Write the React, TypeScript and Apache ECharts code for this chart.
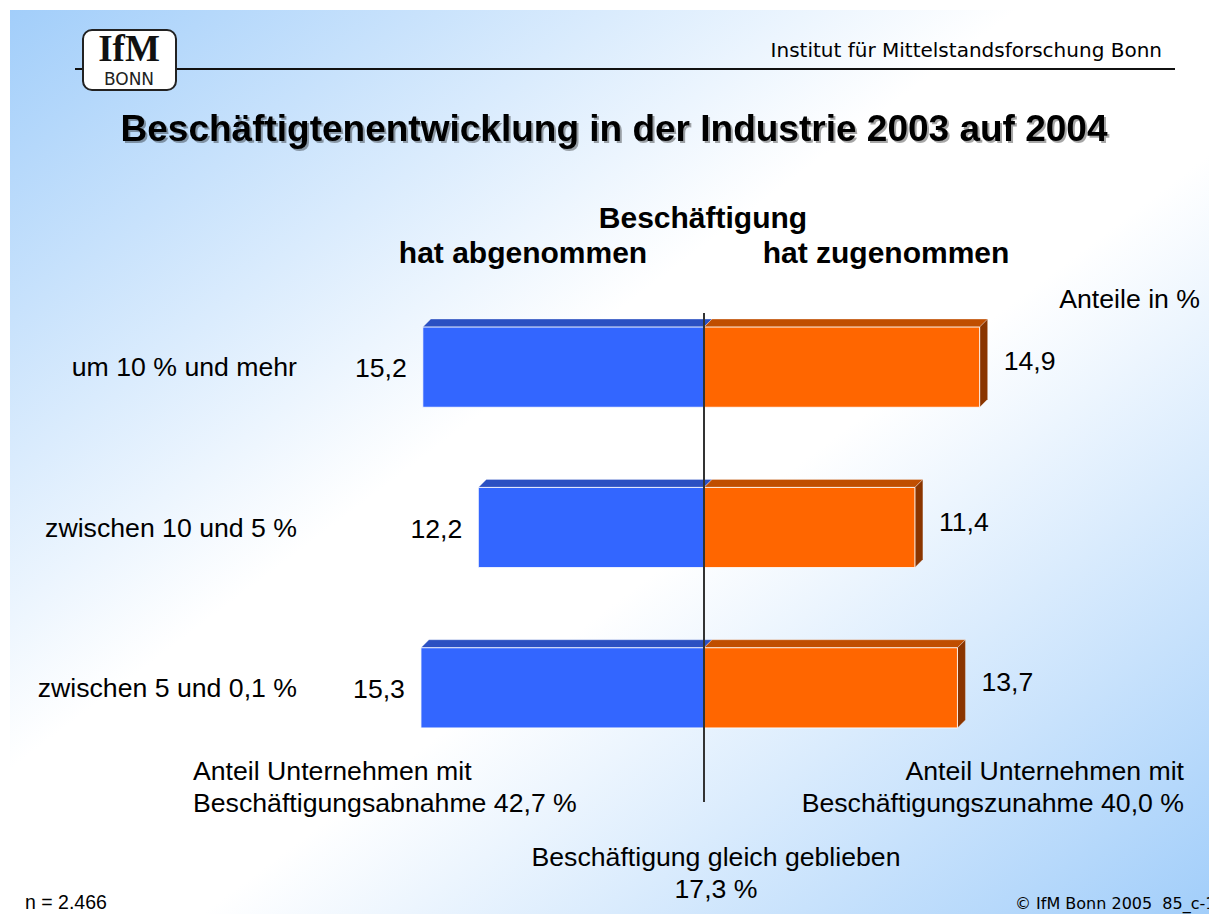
import React, { useEffect, useRef } from "react";
import * as echarts from "echarts";

const categories = ["um 10 % und mehr", "zwischen 10 und 5 %", "zwischen 5 und 0,1 %"];
const decreased = [15.2, 12.2, 15.3];
const increased = [14.9, 11.4, 13.7];
const shareDecrease = 42.7;
const shareIncrease = 40.0;
const shareUnchanged = 17.3;
const sampleSize = "2.466";

const FONT = "'Liberation Sans', Arial, sans-serif";
const TAHOMA = "'DejaVu Sans', Verdana, sans-serif";
const fmt = (v: number) => v.toFixed(1).replace(".", ",");

function makeRender(color: { front: string; top: string; side: string }, positive: boolean) {
  return (params: any, api: any) => {
    const v = api.value(0);
    const c = api.value(1);
    const p0 = api.coord([0, c]);
    const p1 = api.coord([v, c]);
    const h = api.size([0, 1])[1] * 0.5;
    const y0 = p0[1] - h / 2;
    const y1 = y0 + h;
    const d = 8;
    const xl = Math.min(p0[0], p1[0]);
    const xr = Math.max(p0[0], p1[0]);
    const children: any[] = [];
    children.push({
      type: "polygon",
      shape: { points: [[xl, y0], [xl + d, y0 - d], [xr + d, y0 - d], [xr, y0]] },
      style: { fill: color.top, stroke: "rgba(255,255,255,0.6)", lineWidth: 0.5 },
    });
    if (positive) {
      children.push({
        type: "polygon",
        shape: { points: [[xr, y0], [xr + d, y0 - d], [xr + d, y1 - d], [xr, y1]] },
        style: { fill: color.side, stroke: "rgba(255,255,255,0.6)", lineWidth: 0.5 },
      });
    }
    children.push({
      type: "rect",
      shape: { x: xl, y: y0, width: xr - xl, height: h },
      style: { fill: color.front, stroke: "rgba(255,255,255,0.85)", lineWidth: 1 },
    });
    children.push({
      type: "text",
      x: positive ? xr + 24 : xl - 16,
      y: positive ? p0[1] - 6 : p0[1] + 1,
      style: {
        text: fmt(Math.abs(v)),
        fill: "#000",
        font: `26.67px ${FONT}`,
        align: positive ? "left" : "right",
        verticalAlign: "middle",
      },
    });
    return { type: "group", children };
  };
}

function txt(text: string, x: number, y: number, size: number, align: string, opts: any = {}) {
  return {
    type: "text",
    x,
    y,
    z: 50,
    style: {
      text,
      fill: "#000",
      font: `${opts.bold ? "bold " : ""}${size}px ${opts.family || FONT}`,
      align,
      verticalAlign: "middle",
      ...(opts.style || {}),
    },
  };
}

export default function App() {
  const ref = useRef<HTMLDivElement>(null);
  useEffect(() => {
    const chart = echarts.init(ref.current!, undefined, { renderer: "svg" });
    chart.setOption({
      animation: false,
      grid: { left: 334, right: 135, top: 287, bottom: 146 },
      xAxis: { type: "value", min: -20, max: 20, show: false },
      yAxis: {
        type: "category",
        data: categories,
        inverse: true,
        position: "left",
        axisLine: { show: false, onZero: false },
        axisTick: { show: false },
        splitLine: { show: false },
        axisLabel: { fontSize: 26.67, color: "#000", fontFamily: FONT, margin: 37 },
      },
      series: [
        {
          type: "custom",
          name: "hat abgenommen",
          renderItem: makeRender({ front: "#3366ff", top: "#2b50c2", side: "#1f3a99" }, false),
          data: decreased.map((v, i) => [-v, i]),
          encode: { x: 0, y: 1 },
        },
        {
          type: "custom",
          name: "hat zugenommen",
          renderItem: makeRender({ front: "#ff6600", top: "#c04e00", side: "#8a3500" }, true),
          data: increased.map((v, i) => [v, i]),
          encode: { x: 0, y: 1 },
        },
      ],
      graphic: [
        {
          type: "rect",
          z: -10,
          shape: { x: 10, y: 10, width: 1199, height: 904 },
          style: {
            fill: new echarts.graphic.LinearGradient(0, 0, 1, 1, [
              { offset: 0, color: "#a2cefa" },
              { offset: 0.42, color: "#ffffff" },
              { offset: 0.58, color: "#ffffff" },
              { offset: 1, color: "#a2cefa" },
            ]),
          },
        },
        { type: "line", z: 20, shape: { x1: 75, y1: 69, x2: 1175, y2: 69 }, style: { stroke: "#111", lineWidth: 2 } },
        {
          type: "rect",
          z: 30,
          shape: { x: 83, y: 30, width: 93, height: 60, r: 9 },
          style: { fill: "#fff", stroke: "#222", lineWidth: 2 },
        },
        txt("IfM", 129, 48, 37, "center", { bold: true, family: "'Liberation Serif', 'DejaVu Serif', serif", style: { fill: "#111" } }),
        txt("BONN", 129, 79, 17, "center", { family: "'DejaVu Sans', sans-serif", style: { fill: "#222" } }),
        txt("Institut für Mittelstandsforschung Bonn", 1162, 50, 20, "right", { family: TAHOMA }),
        txt("Beschäftigtenentwicklung in der Industrie 2003 auf 2004", 614, 128, 37, "center", {
          bold: true,
          style: { textShadowColor: "rgba(0,0,0,0.35)", textShadowOffsetX: 2, textShadowOffsetY: 2, textShadowBlur: 1 },
        }),
        txt("Beschäftigung", 703, 217, 30, "center", { bold: true }),
        txt("hat abgenommen", 523, 252, 30, "center", { bold: true }),
        txt("hat zugenommen", 886, 252, 30, "center", { bold: true }),
        txt("Anteile in %", 1200, 299, 26.67, "right"),
        { type: "line", z: 100, shape: { x1: 704, y1: 313, x2: 704, y2: 802 }, style: { stroke: "#333", lineWidth: 2 } },
        txt("Anteil Unternehmen mit", 193, 771, 26.67, "left"),
        txt(`Beschäftigungsabnahme ${fmt(shareDecrease)} %`, 193, 803, 26.67, "left"),
        txt("Anteil Unternehmen mit", 1184, 771, 26.67, "right"),
        txt(`Beschäftigungszunahme ${fmt(shareIncrease)} %`, 1184, 803, 26.67, "right"),
        txt("Beschäftigung gleich geblieben", 716, 857, 26.67, "center"),
        txt(`${fmt(shareUnchanged)} %`, 716, 889, 26.67, "center"),
        txt(`n = ${sampleSize}`, 25, 902, 19.5, "left"),
        txt("© IfM Bonn 2005  85_c-10", 1015, 903, 16, "left", { family: TAHOMA }),
      ],
    });
    return () => chart.dispose();
  }, []);
  return <div ref={ref} style={{ position: "absolute", left: 0, top: 0, width: 1209, height: 914 }} />;
}
